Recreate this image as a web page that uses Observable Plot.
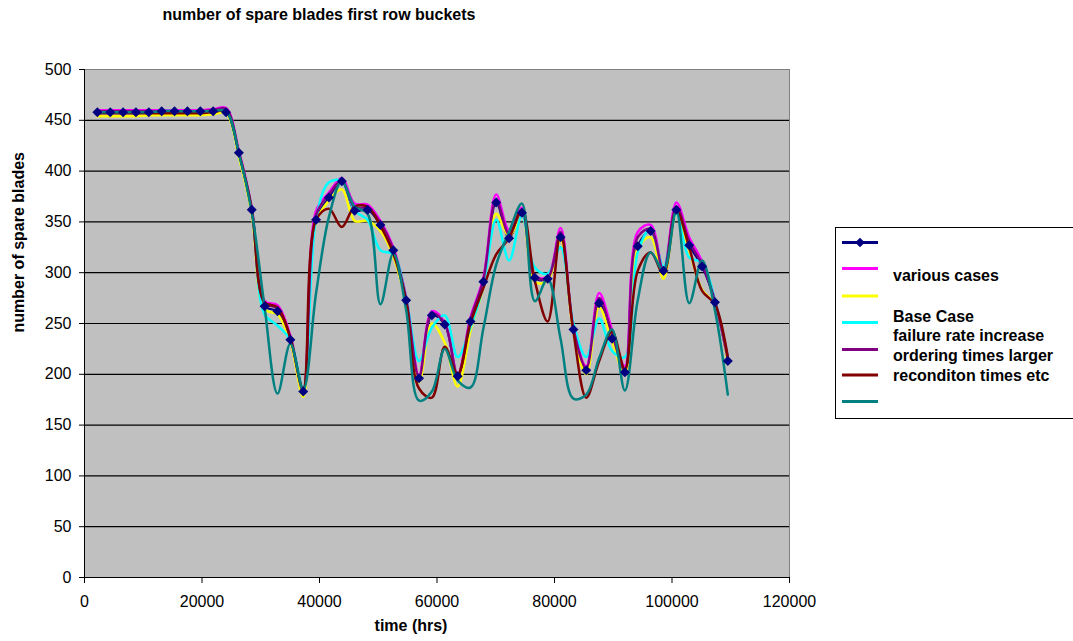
<!DOCTYPE html>
<html>
<head>
<meta charset="utf-8">
<script src="https://cdn.jsdelivr.net/npm/d3@7"></script>
<script src="https://cdn.jsdelivr.net/npm/@observablehq/plot@0.6"></script>
<style>
  html, body { margin: 0; padding: 0; background: #fff; overflow: hidden; }
  #wrap { position: relative; width: 1073px; height: 641px; font-family: "Liberation Sans", Arial, sans-serif; color: #000; }
  #title { position: absolute; left: 0; top: 6px; width: 638px; text-align: center; font-weight: bold; font-size: 16px; line-height: 18px; }
  #chart { position: absolute; left: 0; top: 40px; }
  #legend { position: absolute; left: 835px; top: 227px; }
</style>
</head>
<body>
<div id="wrap">
  <div id="title">number of spare blades first row buckets</div>
  <div id="chart"></div>
  <div id="legend"></div>
</div>
<script>
// ---- data ----
const times = [2190, 4380, 6570, 8760, 10950, 13140, 15330, 17520, 19710, 21900,
  24090, 26280, 28470, 30660, 32850, 35040, 37230, 39420, 41610, 43800,
  45990, 48180, 50370, 52560, 54750, 56940, 59130, 61320, 63510, 65700,
  67890, 70080, 72270, 74460, 76650, 78840, 81030, 83220, 85410, 87600,
  89790, 91980, 94170, 96360, 98550, 100740, 102930, 105120, 107310, 109500];

const navyValues = [458, 458, 458, 458, 458, 459, 459, 459, 459, 459,
  458, 418, 362, 267, 262, 234, 183, 352, 374, 390,
  361, 362, 347, 322, 273, 196, 258, 249, 198, 252,
  291, 369, 334, 359, 295, 294, 335, 244, 204, 270,
  235, 202, 326, 341, 302, 362, 327, 306, 271, 213];

const magentaValues = [460, 460, 460, 460, 460, 460, 460, 460, 460, 461,
  462, 420, 364, 272, 268, 238, 185, 361, 379, 393,
  368, 367, 351, 325, 276, 199, 262, 251, 200, 256,
  295, 377, 342, 364, 297, 296, 344, 246, 208, 280,
  244, 208, 340, 347, 303, 369, 335, 311, 273, 217];

const yellowValues = [454, 454, 454, 454, 455, 455, 455, 455, 455, 456,
  457, 414, 358, 264, 259, 232, 178, 350, 371, 382,
  351, 351, 341, 316, 270, 192, 250, 231, 188, 243,
  286, 358, 336, 356, 291, 292, 332, 242, 200, 266,
  233, 200, 324, 335, 294, 358, 322, 283, 269, 210];

const cyanValues = [458, 458, 458, 458, 458, 459, 459, 459, 459, 459,
  459, 417, 362, 259, 248, 234, 187, 353, 389, 390,
  361, 352, 322, 318, 275, 213, 246, 258, 217, 246,
  287, 352, 312, 356, 305, 299, 325, 250, 217, 255,
  223, 217, 320, 343, 306, 358, 315, 310, 273, 217];

const purpleValues = [459, 459, 459, 459, 459, 459, 459, 459, 459, 460,
  461, 418, 363, 270, 265, 236, 184, 357, 377, 390,
  364, 364, 349, 323, 274, 197, 260, 250, 199, 254,
  293, 372, 338, 361, 296, 295, 340, 245, 206, 275,
  240, 204, 335, 343, 302, 365, 331, 308, 272, 215];

const brownValues = [457, 457, 457, 457, 457, 457, 457, 457, 457, 458,
  459, 418, 362, 271, 266, 236, 186, 352, 363, 345,
  365, 365, 346, 319, 272, 186, 177, 227, 200, 250,
  285, 318, 334, 362, 292, 252, 338, 242, 177, 213,
  242, 205, 302, 320, 299, 361, 325, 282, 269, 217];

const tealValues = [458, 458, 458, 458, 458, 459, 459, 459, 459, 459,
  459, 418, 360, 266, 181, 230, 185, 280, 355, 390,
  365, 358, 269, 319, 263, 174, 183, 225, 194, 187,
  245, 308, 340, 368, 272, 294, 235, 176, 180, 216,
  244, 184, 273, 320, 302, 361, 270, 312, 263, 180];

const xTicks = [0, 20000, 40000, 60000, 80000, 100000, 120000];
const yTicks = [0, 50, 100, 150, 200, 250, 300, 350, 400, 450, 500];
const legendLabels = ["various cases", "Base Case", "failure rate increase", "ordering times larger", "reconditon times etc"];

// ---- series table ----
const seriesList = [
  {key: "navy", color: "#000080", values: navyValues},
  {key: "magenta", color: "#FF00FF", values: magentaValues},
  {key: "yellow", color: "#FFFF00", values: yellowValues},
  {key: "cyan", color: "#00FFFF", values: cyanValues},
  {key: "purple", color: "#800080", values: purpleValues},
  {key: "brown", color: "#800000", values: brownValues},
  {key: "teal", color: "#008080", values: tealValues}
];
const rowsOf = s => times.map((t, i) => ({t, v: s.values[i]}));

const lineMarks = seriesList.map(s =>
  Plot.line(rowsOf(s), {x: "t", y: "v", stroke: s.color, strokeWidth: s.key === "navy" ? 2 : 2.5, curve: "catmull-rom"})
);

const chart = Plot.plot({
  width: 830,
  height: 601,
  marginLeft: 84,
  marginRight: 41,
  marginTop: 29,
  marginBottom: 64,
  style: {background: "transparent", fontFamily: "'Liberation Sans', Arial, sans-serif", fontSize: "16px", color: "#000", overflow: "visible"},
  x: {domain: [0, 120000]},
  y: {domain: [0, 500]},
  marks: [
    Plot.frame({fill: "#C0C0C0", stroke: "#808080"}),
    Plot.ruleY(yTicks.filter(d => d > 0 && d < 500), {stroke: "#000", strokeWidth: 1.2}),
    Plot.ruleX([0], {stroke: "#000"}),
    Plot.ruleY([0], {stroke: "#000"}),
    Plot.axisX({ticks: xTicks, tickFormat: d => String(d), tickSize: 6, tickPadding: 12, label: null}),
    Plot.axisY({ticks: yTicks, tickFormat: d => String(d), tickSize: 5, tickPadding: 8, label: null}),
    Plot.text(["time (hrs)"], {frameAnchor: "bottom", dy: 53, dx: -26, fontWeight: "bold", fontSize: 16}),
    Plot.text(["number of spare blades"], {frameAnchor: "left", dx: -66, dy: 9, rotate: -90, fontWeight: "bold", fontSize: 16}),
    ...lineMarks,
    Plot.dot(rowsOf(seriesList[0]), {x: "t", y: "v", symbol: "diamond2", r: 4.5, fill: "#000080", stroke: "none"})
  ]
});
document.getElementById("chart").appendChild(chart);

// ---- legend ----
const legendW = 260, legendH = 192;
const lsvg = d3.select("#legend").append("svg")
  .attr("width", legendW).attr("height", legendH)
  .style("font-family", "'Liberation Sans', Arial, sans-serif")
  .style("overflow", "visible");
lsvg.append("rect").attr("x", 0.5).attr("y", 0.5).attr("width", legendW).attr("height", legendH - 1)
  .attr("fill", "#fff").attr("stroke", "#000");
const swatchY = [15.5, 41.5, 69, 95.5, 122.5, 148, 174.5];
seriesList.forEach((s, i) => {
  lsvg.append("line").attr("x1", 7).attr("x2", 43).attr("y1", swatchY[i]).attr("y2", swatchY[i])
    .attr("stroke", s.color).attr("stroke-width", 3);
});
lsvg.append("path").attr("d", d3.symbol(d3.symbolDiamond2, 60)()).attr("transform", `translate(25,${swatchY[0]})`).attr("fill", "#000080");
const labelY = [48, 89, 108, 128, 148];
legendLabels.forEach((txt, i) => {
  lsvg.append("text").attr("x", 58).attr("y", labelY[i]).attr("dy", "0.35em")
    .attr("font-size", 16).attr("font-weight", "bold").text(txt);
});
</script>
</body>
</html>
